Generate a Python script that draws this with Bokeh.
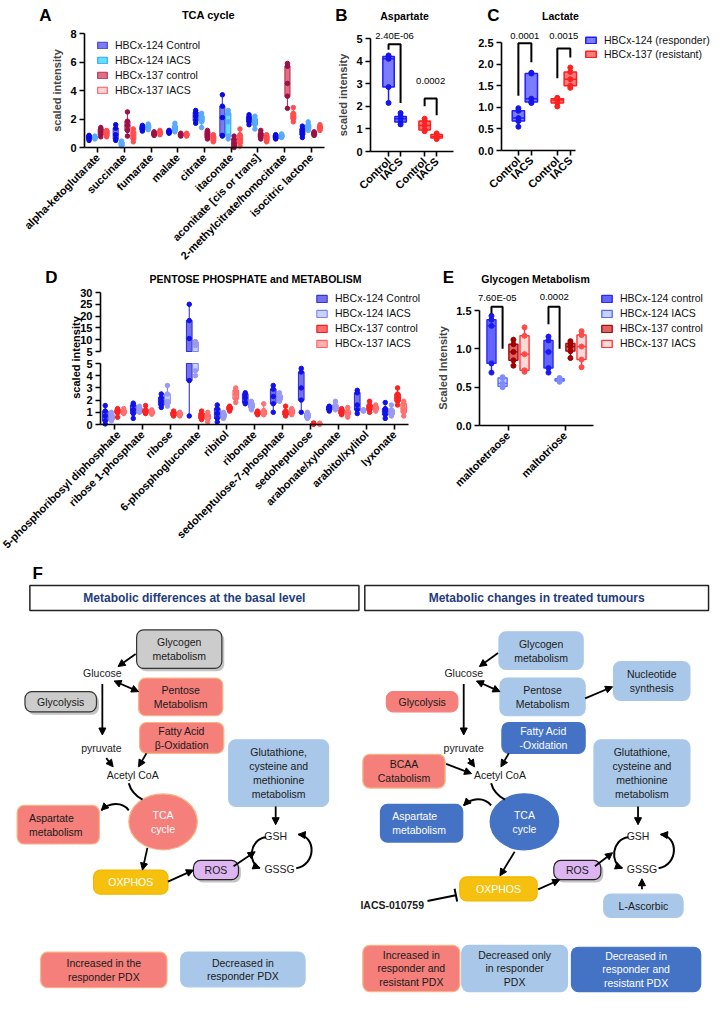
import math
from bokeh.plotting import figure
from bokeh.layouts import row, column
from bokeh.models import (Range1d, FixedTicker, NumeralTickFormatter, Label, LinearAxis,
                          Legend, LegendItem, Arrow, NormalHead, TeeHead)
from bokeh.embed import file_html
from bokeh.resources import INLINE
from bokeh.core.properties import value

FONT = "Liberation Sans"

# ---------------- Panel A : TCA cycle (min, q1, median, q3, max) ----------------
A_categories = ["alpha-ketoglutarate", "succinate", "fumarate", "malate", "citrate",
                "itaconate", "aconitate [cis or trans]", "2-methylcitrate/homocitrate",
                "isocitric lactone"]
A_groups = ["HBCx-124 Control", "HBCx-124 IACS", "HBCx-137 control", "HBCx-137 IACS"]
A_124_control = [[0.5, 0.6, 0.7, 0.8, 0.85], [0.5, 0.6, 0.9, 1.35, 1.6], [1.15, 1.25, 1.35, 1.45, 1.55],
                 [1.0, 1.05, 1.1, 1.15, 1.2], [1.7, 1.9, 2.2, 2.45, 2.6], [0.8, 0.85, 2.1, 2.9, 3.7],
                 [1.6, 1.8, 2.0, 2.15, 2.3], [0.6, 0.65, 0.75, 0.85, 0.9], [0.7, 0.9, 1.1, 1.3, 1.5]]
A_124_iacs = [[0.6, 0.65, 0.7, 0.75, 0.8], [0.1, 0.15, 0.25, 0.35, 0.45], [1.25, 1.35, 1.45, 1.55, 1.65],
              [1.1, 1.2, 1.35, 1.5, 1.7], [1.4, 1.8, 2.0, 2.2, 2.4], [0.6, 0.8, 1.8, 2.4, 2.6],
              [1.3, 1.6, 1.9, 2.0, 2.2], [0.7, 0.75, 0.8, 0.9, 0.95], [1.2, 1.3, 1.5, 1.6, 1.8]]
A_137_control = [[0.75, 0.9, 1.1, 1.3, 1.4], [0.8, 1.2, 1.55, 1.85, 2.5], [0.85, 0.9, 0.95, 1.05, 1.1],
                 [0.8, 0.85, 0.9, 0.95, 1.0], [0.6, 0.7, 0.9, 1.1, 1.2], [0.0, 0.1, 0.3, 0.6, 0.8],
                 [0.6, 0.7, 0.85, 1.0, 1.2], [2.75, 3.6, 4.5, 5.7, 5.9], [0.85, 0.9, 1.0, 1.05, 1.1]]
A_137_iacs = [[0.75, 0.85, 1.0, 1.15, 1.2], [0.4, 0.6, 0.85, 1.1, 1.3], [0.9, 0.95, 1.0, 1.1, 1.2],
              [0.8, 0.85, 0.9, 0.95, 1.0], [0.4, 0.5, 0.65, 0.8, 0.9], [0.1, 0.3, 0.6, 0.9, 1.3],
              [0.4, 0.5, 0.65, 0.8, 0.9], [1.8, 2.0, 2.2, 2.4, 2.8], [1.2, 1.3, 1.4, 1.5, 1.6]]
A_yticks = [0, 2, 4, 6, 8]

# ---------------- Panel B : Aspartate ----------------
B_labels = ["Control", "IACS", "Control", "IACS"]
B_124_control = [2.15, 2.85, 4.1, 4.2, 4.25]
B_124_iacs = [1.2, 1.3, 1.45, 1.55, 1.7]
B_137_control = [0.9, 0.95, 1.15, 1.35, 1.45]
B_137_iacs = [0.55, 0.6, 0.65, 0.75, 0.8]
B_pvalues = ["2.40E-06", "0.0002"]
B_yticks = [0, 1, 2, 3, 4, 5]

# ---------------- Panel C : Lactate ----------------
C_labels = ["Control", "IACS", "Control", "IACS"]
C_series = ["HBCx-124 (responder)", "HBCx-137 (resistant)"]
C_124_control = [0.55, 0.68, 0.75, 0.92, 0.98]
C_124_iacs = [1.1, 1.12, 1.2, 1.78, 1.8]
C_137_control = [1.02, 1.1, 1.17, 1.2, 1.22]
C_137_iacs = [1.45, 1.5, 1.65, 1.82, 1.92]
C_pvalues = ["0.0001", "0.0015"]
C_yticks = [0, 0.5, 1.0, 1.5, 2.0, 2.5]

# ---------------- Panel D : Pentose phosphate ----------------
D_categories = ["5-phosphoribosyl diphosphate", "ribose 1-phosphate", "ribose", "6-phosphogluconate",
                "ribitol", "ribonate", "sedoheptulose-7-phosphate", "sedoheptulose",
                "arabonate/xylonate", "arabitol/xylitol", "lyxonate"]
D_groups = ["HBCx-124 Control", "HBCx-124 IACS", "HBCx-137 control", "HBCx-137 IACS"]
D_124_control = [[0.05, 0.3, 0.7, 1.1, 1.55], [0.5, 0.9, 1.2, 1.6, 1.75], [1.4, 1.6, 1.9, 2.2, 2.5],
                 [0.7, 3.6, 10.5, 18.1, 25.0], [0.2, 0.5, 0.9, 1.3, 1.6], [1.7, 1.8, 2.2, 2.5, 2.6],
                 [1.0, 1.7, 2.3, 2.9, 3.2], [1.0, 2.0, 3.0, 4.3, 4.6], [1.1, 1.2, 1.3, 1.45, 1.5],
                 [0.9, 1.2, 1.6, 2.6, 2.8], [0.5, 0.8, 1.1, 1.3, 1.8]]
D_124_iacs = [[0.3, 0.4, 0.6, 0.8, 1.0], [1.0, 1.05, 1.2, 1.35, 1.5], [1.5, 1.7, 1.9, 2.5, 3.2],
              [4.0, 4.4, 7.5, 8.9, 9.2], [0.5, 0.6, 0.75, 0.9, 1.0], [1.2, 1.35, 1.5, 1.75, 1.9],
              [1.9, 2.0, 2.2, 2.4, 2.6], [0.5, 0.55, 0.7, 0.9, 1.0], [1.2, 1.3, 1.4, 1.6, 1.9],
              [1.1, 1.12, 1.15, 1.18, 1.2], [0.7, 0.8, 1.0, 1.2, 1.6]]
D_137_control = [[0.6, 0.95, 1.1, 1.2, 1.3], [0.9, 0.95, 1.05, 1.2, 1.55], [0.7, 0.75, 0.9, 1.0, 1.1],
                 [0.4, 0.5, 0.7, 0.9, 1.1], [1.1, 1.2, 1.35, 1.45, 1.5], [0.8, 0.85, 0.95, 1.05, 1.1],
                 [0.7, 0.8, 0.95, 1.1, 1.5], [0.02, 0.04, 0.06, 0.09, 0.12], [0.8, 0.9, 1.0, 1.2, 1.3],
                 [1.0, 1.2, 1.4, 1.6, 1.9], [1.6, 1.9, 2.2, 2.5, 3.0]]
D_137_iacs = [[0.9, 0.95, 1.05, 1.15, 1.3], [0.85, 0.9, 1.0, 1.1, 1.2], [0.7, 0.75, 0.85, 0.95, 1.0],
              [0.2, 0.45, 0.6, 0.8, 1.0], [1.8, 2.1, 2.5, 2.8, 3.0], [0.8, 0.85, 1.0, 1.15, 1.7],
              [0.8, 0.9, 1.05, 1.2, 1.3], [0.02, 0.04, 0.06, 0.08, 0.1], [0.6, 0.8, 0.95, 1.1, 1.4],
              [1.1, 1.2, 1.3, 1.45, 1.6], [0.7, 1.0, 1.3, 1.7, 1.9]]
D_upper_ticks = [5, 10, 15, 20, 25, 30]
D_lower_ticks = [0, 1, 2, 3, 4, 5]
D_break = 5

# ---------------- Panel E : Glycogen metabolism ----------------
E_categories = ["maltotetraose", "maltotriose"]
E_groups = ["HBCx-124 control", "HBCx-124 IACS", "HBCx-137 control", "HBCx-137 IACS"]
E_124_control = [[0.69, 0.81, 1.3, 1.38, 1.43], [0.69, 0.75, 0.96, 1.11, 1.16]]
E_124_iacs = [[0.5, 0.51, 0.55, 0.62, 0.63], [0.57, 0.58, 0.59, 0.61, 0.62]]
E_137_control = [[0.78, 0.85, 0.96, 1.06, 1.12], [0.88, 0.97, 1.03, 1.07, 1.1]]
E_137_iacs = [[0.7, 0.72, 0.93, 1.17, 1.28], [0.76, 0.86, 1.03, 1.18, 1.23]]
E_pvalues = ["7.60E-05", "0.0002"]
E_yticks = [0, 0.5, 1.0, 1.5]


# ---------------- helpers ----------------
class Geo:
    """Maps canvas pixels of a figure to its data coordinates (plot area = (l,t)-(r,b))."""
    def __init__(self, w, h, l, t, r, b, xd, yd):
        self.w, self.h, self.l, self.t, self.r, self.b = w, h, l, t, r, b
        self.xd, self.yd = xd, yd
        self.sx = (xd[1] - xd[0]) / (r - l)
        self.sy = (yd[1] - yd[0]) / (b - t)

    def X(self, px):
        return self.xd[0] + (px - self.l) * self.sx

    def Y(self, py):
        return self.yd[0] + (self.b - py) * self.sy

    def xr(self):
        return Range1d(self.X(0), self.X(self.w))

    def yr(self):
        return Range1d(self.Y(self.h), self.Y(0))


def style_axis(ax, size="11px"):
    ax.axis_line_width = 1.6
    ax.axis_line_color = "black"
    ax.major_tick_line_width = 1.6
    ax.major_tick_line_color = "black"
    ax.major_tick_out = 5
    ax.major_tick_in = 0
    ax.minor_tick_line_color = None
    ax.major_label_text_font = FONT
    ax.major_label_text_font_style = "bold"
    ax.major_label_text_font_size = size
    ax.major_label_text_color = "black"
    ax.major_label_standoff = 3
    ax.axis_label_text_font = FONT
    ax.axis_label_text_font_style = "bold"
    ax.axis_label_text_font_size = "11px"
    ax.axis_label_standoff = 4


def base_fig(g):
    p = figure(width=g.w, height=g.h, x_range=g.xr(), y_range=g.yr(), output_backend="svg",
               toolbar_location=None, min_border=0, title=None)
    p.outline_line_color = None
    p.grid.visible = False
    p.background_fill_color = "white"
    p.border_fill_color = "white"
    for ax in p.axis:
        style_axis(ax)
    p.xaxis.fixed_location = g.yd[0]
    p.yaxis.fixed_location = g.xd[0]
    p.xaxis.bounds = g.xd
    p.yaxis.bounds = g.yd
    return p


def set_xcats(p, labels, ticks=None):
    ticks = ticks if ticks is not None else list(range(len(labels)))
    p.xaxis.ticker = FixedTicker(ticks=ticks)
    p.xaxis.major_label_overrides = {t: l for t, l in zip(ticks, labels)}
    p.xaxis.major_label_orientation = math.pi / 4


def boxes(p, xs, stats, width, fill, edge, pts, lw=1.3, psize=4.5,
          lo=-1e9, hi=1e9, yname="default"):
    sel = [(x, s) for x, s in zip(xs, stats) if s[4] >= lo and s[0] <= hi]
    sx = [x for x, _ in sel]
    cl = lambda v: min(max(v, lo), hi)
    mn = [cl(s[0]) for _, s in sel]
    q1 = [cl(s[1]) for _, s in sel]
    q3 = [cl(s[3]) for _, s in sel]
    mx = [cl(s[4]) for _, s in sel]
    p.segment(x0=sx, y0=mn, x1=sx, y1=mx, line_color=edge, line_width=lw, y_range_name=yname)
    r = p.vbar(x=sx, width=width, bottom=q1, top=q3, fill_color=fill, line_color=edge,
               line_width=lw, y_range_name=yname)
    med = [(x, s[2]) for x, s in sel if lo <= s[2] <= hi]
    p.segment(x0=[x - width / 2 for x, _ in med], y0=[m for _, m in med],
              x1=[x + width / 2 for x, _ in med], y1=[m for _, m in med],
              line_color=edge, line_width=lw, y_range_name=yname)
    px = [x for x, s in sel for v in s if lo <= v <= hi]
    py = [v for _, s in sel for v in s if lo <= v <= hi]
    p.scatter(px, py, size=psize, fill_color=pts, line_color=pts, y_range_name=yname)
    return r


def dlabel(p, text, x, y, size="9.5px", bold=False, angle=0.0, align="center", color="black"):
    p.add_layout(Label(x=x, y=y, text=text, text_font=FONT, text_font_size=size,
                       text_font_style="bold" if bold else "normal", angle=angle,
                       text_align=align, text_baseline="middle", text_color=color))


def make_legend(p, renderers, labels, loc, gw=13, gh=9, spacing=3, standoff=7):
    lg = Legend(items=[LegendItem(label=l, renderers=[r]) for l, r in zip(labels, renderers)],
                location=loc)
    lg.label_text_font = FONT
    lg.label_text_font_size = "10.5px"
    lg.label_text_color = "#111111"
    lg.border_line_color = None
    lg.background_fill_alpha = 0
    lg.padding = 0
    lg.margin = 0
    lg.glyph_width = gw
    lg.glyph_height = gh
    lg.label_height = 12
    lg.spacing = spacing
    lg.label_standoff = standoff
    p.add_layout(lg)


ROW1_H, ROW2_H, ROW3_H = 268, 290, 436

# ---------------- Panel A ----------------
A_fill = ["#7b7bf2", "#5fe2ff", "#e26e82", "#ffd0d4"]
A_edge = ["#3d3dd8", "#3aa0ff", "#b83058", "#ff5a5a"]
A_pts = ["#0a0ae6", "#5aaaff", "#9c0f48", "#ff4d4d"]
offs4 = [-0.33, -0.11, 0.11, 0.33]

gA = Geo(332, ROW1_H, 84, 33, 324, 147, (-0.5, len(A_categories) - 0.5), (0, 8))
pA = base_fig(gA)
set_xcats(pA, A_categories)
pA.yaxis.ticker = FixedTicker(ticks=A_yticks)
pA.yaxis.axis_label = "scaled intensity"
rA = []
for gi, data in enumerate([A_124_control, A_124_iacs, A_137_control, A_137_iacs]):
    xs = [i + offs4[gi] for i in range(len(A_categories))]
    rA.append(boxes(pA, xs, data, 0.19, A_fill[gi], A_edge[gi], A_pts[gi], lw=1.1, psize=4.5))
make_legend(pA, rA, A_groups, (96, ROW1_H - 96), gw=12, gh=8)
dlabel(pA, "A", gA.X(45), gA.Y(15), "17px", bold=True)
dlabel(pA, "TCA cycle", gA.X(208), gA.Y(14), "11px", bold=True)

# ---------------- Panel B ----------------
BLUE = ("#7c7cff", "#1e1eff", "#1515ee")
RED = ("#ff7c7c", "#ff1e1e", "#ff2020")
BC_pos = [1, 2, 4, 5]

gB = Geo(124, ROW1_H, 38, 38, 121, 151, (-0.5, 6.4), (0, 5))
pB = base_fig(gB)
set_xcats(pB, B_labels, BC_pos)
pB.yaxis.ticker = FixedTicker(ticks=B_yticks)
pB.yaxis.axis_label = "scaled intensity"
for x, st, col in zip(BC_pos, [B_124_control, B_124_iacs, B_137_control, B_137_iacs],
                      [BLUE, BLUE, RED, RED]):
    boxes(pB, [x], [st], 0.95, col[0], col[1], col[2], lw=1.5, psize=5)
pB.multi_line(xs=[[1, 1, 2, 2], [4, 4, 5, 5]],
              ys=[[4.5, 4.75, 4.75, 2.15], [2.0, 2.35, 2.35, 1.6]], line_color="black", line_width=2)
dlabel(pB, B_pvalues[0], 1.5, 5.13)
dlabel(pB, B_pvalues[1], 4.5, 3.14)
dlabel(pB, "B", gB.X(9), gB.Y(15), "17px", bold=True)
dlabel(pB, "Aspartate", gB.X(72), gB.Y(15), "10.5px", bold=True)

# ---------------- Panel C ----------------
gC = Geo(254, ROW1_H, 45, 42, 119, 150, (-0.3, 5.4), (0, 2.5))
pC = base_fig(gC)
set_xcats(pC, C_labels, BC_pos)
pC.yaxis.ticker = FixedTicker(ticks=C_yticks)
pC.yaxis.formatter = NumeralTickFormatter(format="0.0")
rC = []
for x, st, col in zip(BC_pos, [C_124_control, C_124_iacs, C_137_control, C_137_iacs],
                      [BLUE, BLUE, RED, RED]):
    rC.append(boxes(pC, [x], [st], 0.95, col[0], col[1], col[2], lw=1.5, psize=5))
pC.multi_line(xs=[[1, 1, 2, 2], [4, 4, 5, 5]],
              ys=[[1.27, 2.48, 2.48, 2.04], [1.67, 2.36, 2.36, 2.15]], line_color="black", line_width=2)
dlabel(pC, C_pvalues[0], 1.5, 2.66)
dlabel(pC, C_pvalues[1], 4.5, 2.66)
make_legend(pC, [rC[0], rC[2]], C_series, (128, ROW1_H - 60), gw=13, gh=8, spacing=2)
dlabel(pC, "C", gC.X(37), gC.Y(15), "17px", bold=True)
dlabel(pC, "Lactate", gC.X(104), gC.Y(15), "10.5px", bold=True)

# ---------------- Panel D (broken y axis) ----------------
D_fill = ["#7272ee", "#cad2ff", "#ff6a6a", "#ffb0b0"]
D_edge = ["#3434d0", "#7a84f8", "#e82222", "#ff6464"]
D_pts = ["#1010f0", "#9a9af2", "#ff2020", "#ff7070"]

gD = Geo(436, ROW2_H, 100, 95, 408, 156, (-0.5, len(D_categories) - 0.5), (0, D_break))
gDu = Geo(436, ROW2_H, 100, 24, 408, 83, (-0.5, len(D_categories) - 0.5), (D_break, 30))
pD = base_fig(gD)
pD.extra_y_ranges = {"upper": gDu.yr()}
pD.yaxis.ticker = FixedTicker(ticks=D_lower_ticks)
ax_up = LinearAxis(y_range_name="upper", ticker=FixedTicker(ticks=D_upper_ticks))
style_axis(ax_up)
ax_up.fixed_location = gD.xd[0]
ax_up.bounds = (D_break, 30)
pD.add_layout(ax_up, "left")
set_xcats(pD, D_categories)
rD = []
for gi, data in enumerate([D_124_control, D_124_iacs, D_137_control, D_137_iacs]):
    xs = [i + offs4[gi] for i in range(len(D_categories))]
    rD.append(boxes(pD, xs, data, 0.2, D_fill[gi], D_edge[gi], D_pts[gi], lw=1.1, psize=4.5,
                    hi=D_break))
    boxes(pD, xs, data, 0.2, D_fill[gi], D_edge[gi], D_pts[gi], lw=1.1, psize=4.5,
          lo=D_break, yname="upper")
make_legend(pD, rD, D_groups, (315, ROW2_H - 81), gw=13, gh=9, spacing=3)
dlabel(pD, "scaled intensity", gD.X(75), gD.Y(89), "11px", bold=True, angle=math.pi / 2)
dlabel(pD, "D", gD.X(51), gD.Y(9), "17px", bold=True)
dlabel(pD, "PENTOSE PHOSPHATE and METABOLISM", gD.X(255), gD.Y(10), "10.5px", bold=True)

# ---------------- Panel E ----------------
E_fill = ["#6464ff", "#c4d4ff", "#e06464", "#ffd8d8"]
E_edge = ["#2a2aff", "#5a6aff", "#a01010", "#ff3838"]
E_pts = ["#1a1af0", "#7f8cff", "#a00000", "#ff4a4a"]
E_offs = [-0.29, -0.095, 0.095, 0.29]

gE = Geo(274, ROW2_H, 43, 42, 157, 157, (-0.5, 1.5), (0, 1.5))
pE = base_fig(gE)
set_xcats(pE, E_categories)
pE.yaxis.ticker = FixedTicker(ticks=E_yticks)
pE.yaxis.formatter = NumeralTickFormatter(format="0.0")
pE.yaxis.axis_label = "Scaled Intensity"
rE = []
for gi, data in enumerate([E_124_control, E_124_iacs, E_137_control, E_137_iacs]):
    xs = [i + E_offs[gi] for i in range(len(E_categories))]
    rE.append(boxes(pE, xs, data, 0.16, E_fill[gi], E_edge[gi], E_pts[gi], lw=1.4, psize=5))
pE.multi_line(xs=[[-0.29, -0.29, -0.095, -0.095], [0.71, 0.71, 0.905, 0.905]],
              ys=[[1.46, 1.55, 1.55, 1.0], [1.32, 1.55, 1.55, 1.0]], line_color="black", line_width=2)
dlabel(pE, E_pvalues[0], -0.19, 1.67)
dlabel(pE, E_pvalues[1], 0.81, 1.67)
make_legend(pE, rE, E_groups, (164, ROW2_H - 81), gw=13, gh=9, spacing=3)
dlabel(pE, "E", gE.X(12), gE.Y(9), "17px", bold=True)
dlabel(pE, "Glycogen Metabolism", gE.X(99), gE.Y(10), "10.5px", bold=True)

# ---------------- Panel F : schematic ----------------
SALMON, SAL_EDGE = "#f47f7b", "#f7b484"
LBLUE, DBLUE = "#a9c8e9", "#4472c4"
GRAY, GOLD, PURPLE = "#cccccc", "#f6c10e", "#dcb5f1"
DARK = "#1a1a1a"

pF = figure(width=710, height=ROW3_H, x_range=Range1d(2, 727), y_range=Range1d(1012, 560),
            output_backend="svg", toolbar_location=None, min_border=0, title=None,
            x_axis_location=None, y_axis_location=None)
pF.outline_line_color = None
pF.grid.visible = False

F_boxes = [
    (141, 228, 634, 674, GRAY, "#333333", True, "Glycogen\nmetabolism", DARK, "center"),
    (143, 229, 684, 723, SALMON, SAL_EDGE, False, "Pentose\nMetabolism", DARK, "center"),
    (27, 100, 698, 719, GRAY, "#333333", True, "Glycolysis", DARK, "center"),
    (144, 230, 730, 762, SALMON, SAL_EDGE, False, "Fatty Acid\nβ-Oxidation", DARK, "center"),
    (235, 337, 748, 817, LBLUE, None, False, "Glutathione,\ncysteine and\nmethionine\nmetabolism", DARK, "center"),
    (19, 103, 816, 856, SALMON, SAL_EDGE, False, "Aspartate\nmetabolism", DARK, "left"),
    (97, 173, 883, 908, GOLD, "#f2b600", False, "OXPHOS", "white", "center"),
    (199, 245, 873, 893, PURPLE, "#222222", True, "ROS", DARK, "center"),
    (43, 172, 968, 1005, SALMON, SAL_EDGE, False, "Increased in the\nresponder PDX", DARK, "center"),
    (186, 313, 968, 1004, LBLUE, None, False, "Decreased in\nresponder PDX", DARK, "center"),
    (511, 597, 636, 675, LBLUE, None, False, "Glycogen\nmetabolism", DARK, "center"),
    (512, 599, 684, 723, LBLUE, None, False, "Pentose\nMetabolism", DARK, "center"),
    (628, 706, 667, 707, LBLUE, None, False, "Nucleotide\nsynthesis", DARK, "center"),
    (396, 469, 698, 719, SALMON, None, False, "Glycolysis", DARK, "center"),
    (514, 599, 730, 762, DBLUE, None, False, "Fatty Acid\n-Oxidation", "white", "center"),
    (372, 456, 763, 798, SALMON, SAL_EDGE, False, "BCAA\nCatabolism", DARK, "center"),
    (608, 706, 748, 817, LBLUE, None, False, "Glutathione,\ncysteine and\nmethionine\nmetabolism", DARK, "center"),
    (390, 474, 815, 854, DBLUE, None, False, "Aspartate\nmetabolism", "white", "left"),
    (471, 550, 890, 915, GOLD, "#f2b600", False, "OXPHOS", "white", "center"),
    (567, 615, 873, 893, PURPLE, "#222222", True, "ROS", DARK, "center"),
    (618, 699, 908, 932, LBLUE, None, False, "L-Ascorbic", DARK, "center"),
    (372, 471, 961, 1009, SALMON, SAL_EDGE, False, "Increased in\nresponder and\nresistant PDX", DARK, "center"),
    (473, 581, 961, 1009, LBLUE, None, False, "Decreased only\nin responder\nPDX", DARK, "center"),
    (585, 717, 963, 1009, DBLUE, None, False, "Decreased in\nresponder and\nresistant PDX", "white", "center"),
]

for x0, x1, t in [(32, 368, "Metabolic differences at the basal level"),
                  (374, 725, "Metabolic changes in treated tumours")]:
    pF.quad(left=[x0], right=[x1], top=[588], bottom=[614], fill_color="white",
            line_color="#222222", line_width=1.5)
    pF.text(x=[(x0 + x1) / 2], y=[601], text=[t], text_font=value(FONT), text_font_size="12px",
            text_font_style="bold", text_color="#1f3d7a", text_align="center", text_baseline="middle")
pF.text(x=[40], y=[576], text=["F"], text_font=value(FONT), text_font_size="17px",
        text_font_style="bold", text_color="black", text_align="center", text_baseline="middle")

for (x0, x1, y0, y1, fc, lc, sh, t, tc, al) in F_boxes:
    if sh:
        pF.quad(left=[x0 + 2.5], right=[x1 + 2.5], top=[y0 + 3], bottom=[y1 + 3], fill_color="#555555",
                fill_alpha=0.35, line_color=None, border_radius=7)
    pF.quad(left=[x0], right=[x1], top=[y0], bottom=[y1], fill_color=fc,
            line_color=lc if lc else fc, line_width=1.2, border_radius=7)
    tx = (x0 + x1) / 2 if al == "center" else x0 + 12
    pF.text(x=[tx], y=[(y0 + y1) / 2], text=[t], text_font=value(FONT), text_font_size="10.5px",
            text_color=tc, text_align=al, text_baseline="middle", text_line_height=1.15)

for cx, fc, lc in [(168, SALMON, SAL_EDGE), (537, DBLUE, DBLUE)]:
    pF.ellipse(x=[cx], y=[833], width=70, height=58, fill_color=fc, line_color=lc, line_width=1.2)
    pF.text(x=[cx], y=[833], text=["TCA\ncycle"], text_font=value(FONT), text_font_size="10.5px",
            text_color="white", text_align="center", text_baseline="middle", text_line_height=1.15)

plain = [("Glucose", 106, 679), ("pyruvate", 105, 756), ("Acetyl CoA", 137, 784),
         ("GSH", 283, 848), ("GSSG", 287, 882),
         ("Glucose", 475, 679), ("pyruvate", 475, 756), ("Acetyl CoA", 512, 784),
         ("GSH", 653, 848), ("GSSG", 657, 882)]
for t, x, y in plain:
    pF.text(x=[x], y=[y], text=[t], text_font=value(FONT), text_font_size="10.5px",
            text_color=DARK, text_align="center", text_baseline="middle")
pF.text(x=[402], y=[919], text=["IACS-010759"], text_font=value(FONT), text_font_size="10.5px",
        text_font_style="bold", text_color=DARK, text_align="center", text_baseline="middle")

arrows = [  # x0, y0, x1, y1, double-headed
    (140, 659, 122, 672, False), (118, 687, 143, 698, True), (106, 690, 106, 743, False),
    (110, 767, 117, 776, False), (151, 762, 143, 776, False), (152, 860, 147, 883, False),
    (173, 895, 199, 883, False), (240, 879, 262, 864, False), (283, 817, 283, 836, False),
    (510, 658, 491, 672, False), (488, 687, 512, 698, True), (599, 705, 627, 693, False),
    (475, 690, 475, 743, False), (457, 773, 483, 783, False), (480, 767, 486, 776, False),
    (521, 762, 513, 776, False), (527, 864, 512, 889, False), (551, 903, 573, 893, False),
    (609, 879, 627, 865, False), (653, 817, 653, 836, False), (657, 903, 657, 892, False),
]
for x0, y0, x1, y1, dbl in arrows:
    pF.add_layout(Arrow(end=NormalHead(size=7, fill_color="black", line_color="black"),
                        start=NormalHead(size=7, fill_color="black", line_color="black") if dbl else None,
                        x_start=x0, y_start=y0, x_end=x1, y_end=y1,
                        line_color="black", line_width=1.8))
pF.add_layout(Arrow(end=TeeHead(size=13, line_width=2, line_color="black"),
                    x_start=438, y_start=915, x_end=467, y_end=909, line_color="black", line_width=2))

curves = []  # (x0, y0, cx0, cy0, cx1, cy1, x1, y1, head)
for dx, dy in ((0, 0), (370, -5)):
    curves += [
        (133 + dx, 793, 135 + dx, 801, 140 + dx, 806, 147 + dx, 810, False),
        (133 + dx, 821 + dy, 126 + dx, 812 + dy, 113 + dx, 813 + dy, 105 + dx, 821 + dy, True),
        (273 + dx, 849, 256 + dx, 851, 254 + dx, 876, 267 + dx, 881, True),
        (304 + dx, 881, 324 + dx, 878, 325 + dx, 848, 306 + dx, 846, True),
    ]
for (x0, y0, c0x, c0y, c1x, c1y, x1, y1, head) in curves:
    pF.bezier(x0=[x0], y0=[y0], cx0=[c0x], cy0=[c0y], cx1=[c1x], cy1=[c1y], x1=[x1], y1=[y1],
              line_color="black", line_width=2)
    if head:
        pF.add_layout(Arrow(end=NormalHead(size=7, fill_color="black", line_color="black"),
                            x_start=x1 - (x1 - c1x) * 0.3, y_start=y1 - (y1 - c1y) * 0.3,
                            x_end=x1, y_end=y1, line_color="black", line_width=1.5))

layout = column(row(pA, pB, pC), row(pD, pE), pF)
open("out.html", "w").write(file_html(layout, INLINE, title="Metabolomics figure"))
